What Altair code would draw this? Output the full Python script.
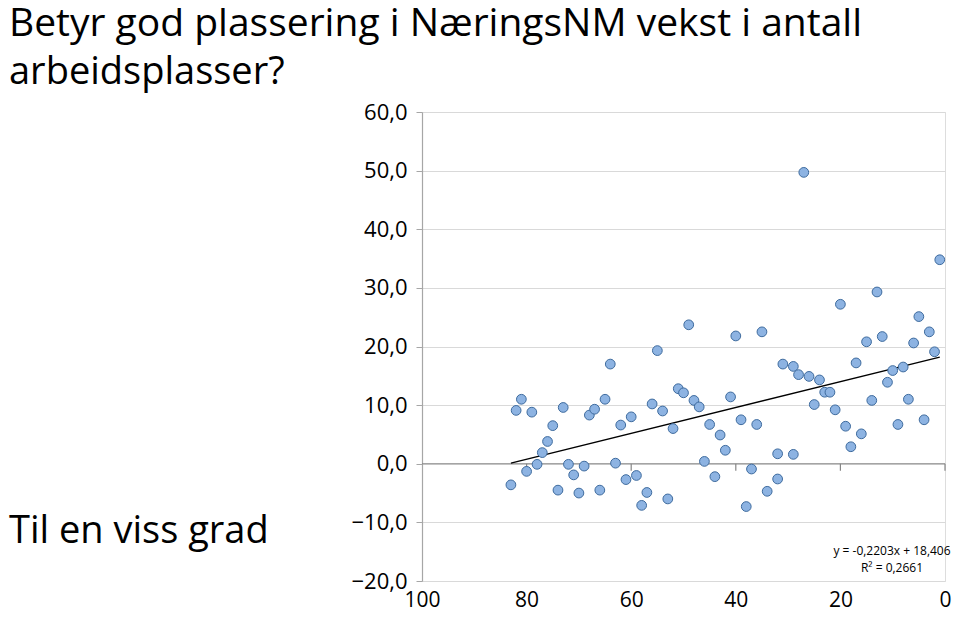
import altair as alt
import pandas as pd

# --- data ---
rank = [83, 82, 81, 80, 79, 78, 77, 76, 75, 74, 73, 72, 71, 70, 69, 68, 67, 66, 65, 64,
        63, 62, 61, 60, 59, 58, 57, 56, 55, 54, 53, 52, 51, 50, 49, 48, 47, 46, 45, 44,
        43, 42, 41, 40, 39, 38, 37, 36, 35, 34, 32, 32, 31, 29, 29, 28, 27, 26, 25, 24,
        23, 22, 21, 20, 19, 18, 17, 16, 15, 14, 13, 12, 11, 10, 9, 8, 7, 6, 5, 4, 3, 2, 1]
growth = [-3.6, 9.1, 11.0, -1.3, 8.8, -0.1, 1.9, 3.8, 6.5, -4.5, 9.6, -0.1, -1.9, -5.0, -0.4,
          8.3, 9.3, -4.5, 11.0, 17.0, 0.1, 6.6, -2.7, 8.0, -2.0, -7.1, -4.9, 10.2, 19.3, 9.0,
          -6.0, 6.0, 12.8, 12.1, 23.7, 10.8, 9.7, 0.4, 6.7, -2.2, 4.9, 2.3, 11.4, 21.8, 7.5,
          -7.3, -0.9, 6.7, 22.5, -4.7, 1.7, -2.6, 17.0, 16.6, 1.6, 15.2, 49.7, 14.9, 10.1, 14.3,
          12.2, 12.2, 9.2, 27.2, 6.4, 2.9, 17.2, 5.1, 20.8, 10.8, 29.3, 21.7, 13.9, 15.9, 6.7,
          16.5, 11.0, 20.6, 25.1, 7.5, 22.5, 19.1, 34.8]

slope = -0.2203
intercept = 18.406
x_ticks = [100, 80, 60, 40, 20, 0]
y_ticks = [-20, -10, 0, 10, 20, 30, 40, 50, 60]
title_lines = ["Betyr god plassering i NæringsNM vekst i antall", "arbeidsplasser?"]
side_label = "Til en viss grad"
eq_lines = ["y = -0,2203x + 18,406", "R² = 0,2661"]

FONT = "Open Sans"
W, H = 523, 469

df = pd.DataFrame({"rank": rank, "growth": growth})
trend_x = [max(rank), min(rank)]
trend = pd.DataFrame({"rank": trend_x, "growth": [slope * v + intercept for v in trend_x]})
tick_df = pd.DataFrame({"rank": [v for v in x_ticks if v != 100]})

xscale = alt.Scale(domain=[0, 100], reverse=True, nice=False, zero=False)
yscale = alt.Scale(domain=[-20, 60], nice=False, zero=False)

points = alt.Chart(df).mark_point(
    shape="circle", filled=True, size=95, fill="#8DB3E2", stroke="#3E6B9E",
    strokeWidth=1, opacity=1
).encode(
    x=alt.X("rank:Q", scale=xscale,
            axis=alt.Axis(values=x_ticks, format="d", grid=False, domain=False, ticks=False,
                          tickSize=0, labelPadding=8, labelFontSize=21, labelFont=FONT,
                          labelColor="#000000", labelFlush=False, labelOverlap=False,
                          title=None)),
    y=alt.Y("growth:Q", scale=yscale,
            axis=alt.Axis(values=y_ticks, grid=True, gridColor="#D9D9D9", gridWidth=1,
                          domain=True, domainColor="#A6A6A6", domainWidth=1.2,
                          ticks=True, tickSize=6, tickColor="#A6A6A6",
                          labelExpr="replace(format(datum.value, '.1f'), '.', ',')",
                          labelFontSize=22, labelFont=FONT, labelColor="#000000",
                          labelPadding=9, labelFlush=False, labelOverlap=False,
                          title=None)),
)

zero_line = alt.Chart(pd.DataFrame({"growth": [0]})).mark_rule(
    color="#868686", strokeWidth=1.2
).encode(y=alt.Y("growth:Q", scale=yscale), x=alt.value(0), x2=alt.value(W))

zero_ticks = alt.Chart(tick_df).mark_rule(color="#868686", strokeWidth=1.2).encode(
    x=alt.X("rank:Q", scale=xscale),
    y=alt.value(H * 60 / 80),
    y2=alt.value(H * 60 / 80 + 7),
)

trend_line = alt.Chart(trend).mark_line(color="#000000", strokeWidth=1.3).encode(
    x=alt.X("rank:Q", scale=xscale), y=alt.Y("growth:Q", scale=yscale)
)


def label(text, x, y, size, align="left", color="#000000"):
    return alt.Chart(pd.DataFrame({"t": [text]})).mark_text(
        font=FONT, fontSize=size, align=align, baseline="alphabetic", color=color
    ).encode(text="t:N", x=alt.value(x), y=alt.value(y))


texts = [
    label(title_lines[0], -413, -76, 39),
    label(title_lines[1], -413, -28, 38),
    label(side_label, -413, 431, 38),
    label(eq_lines[0], 470, 443, 12, align="center"),
    label(eq_lines[1], 470, 460, 12, align="center"),
]

chart = alt.layer(zero_line, zero_ticks, trend_line, points, *texts).properties(
    width=W, height=H,
    autosize=alt.AutoSizeParams(type="none"),
    padding={"left": 414, "top": 104, "right": 7, "bottom": 29},
).configure_view(stroke=None).configure(background="white")

chart.save("out.html", embed_options={"renderer": "svg", "actions": False})
